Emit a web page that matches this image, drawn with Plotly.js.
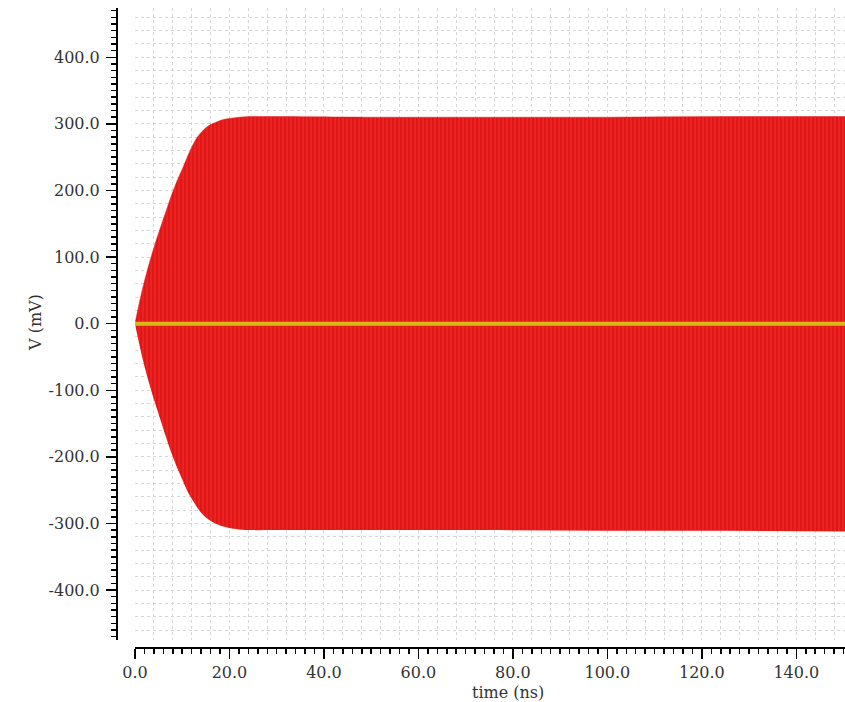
<!DOCTYPE html>
<html>
<head>
<meta charset="utf-8">
<script src="https://cdn.plot.ly/plotly-3.0.1.min.js"></script>
<style>html,body{margin:0;padding:0;background:#fff;}#chart{width:845px;height:702px;}</style>
</head>
<body>
<div id="chart"></div>
<script>
// Envelope of the oscillating output (time in ns, voltage in mV)
const envTime  = [0, 1, 2, 3, 4, 5, 6, 7, 8, 9, 10, 11, 12, 13, 14, 15, 16, 17, 18, 19, 20, 22, 25, 30, 50, 75, 100, 125, 150.3];
const envUpper = [0, 34, 64, 90, 114, 136, 157, 178, 198, 216, 232, 249, 265, 278, 287, 294, 299, 302, 305, 307, 308, 310, 311, 311, 310, 310, 310, 311, 311];
const envLower = [0, -34, -64, -90, -114, -136, -158, -180, -200, -218, -234, -250, -263, -274, -284, -291, -296, -300, -303, -305, -307, -309, -310, -310, -310, -310, -311, -311, -312];
// Second (flat) signal
const flatTime = [0, 150.3];
const flatV    = [0, 0];
// Tick labels
const xTickVals = [0, 20, 40, 60, 80, 100, 120, 140];
const xTickText = ["0.0", "20.0", "40.0", "60.0", "80.0", "100.0", "120.0", "140.0"];
const yTickVals = [-400, -300, -200, -100, 0, 100, 200, 300, 400];
const yTickText = ["-400.0", "-300.0", "-200.0", "-100.0", "0.0", "100.0", "200.0", "300.0", "400.0"];
const xTitle = "time (ns)";
const yTitle = "V (mV)";

const FONT = "DejaVu Serif";
const TXT = "#333333";
const xRange = [0, 150.3];
const yRange = [-475, 474];

const traces = [
  {x: envTime, y: envLower, mode: "lines", line: {width: 0, color: "#e8191b", shape: "spline", smoothing: 1}, hoverinfo: "skip", showlegend: false},
  {x: envTime, y: envUpper, mode: "lines", line: {width: 0.5, color: "#e8191b", shape: "spline", smoothing: 1}, fill: "tonexty",
   fillcolor: "#ec1c1c",
   fillpattern: {shape: "|", fgcolor: "#cc1414", bgcolor: "#f02020", size: 4, solidity: 0.3},
   hoverinfo: "skip", showlegend: false},
  {x: flatTime, y: flatV, mode: "lines", line: {width: 4, color: "#d8b816"}, showlegend: false},
  {x: [], y: [], xaxis: "x2", yaxis: "y", showlegend: false},
  {x: [], y: [], xaxis: "x", yaxis: "y2", showlegend: false}
];

const gridMajor = "#b4b4b4";
const gridMinor = "#d6d6d6";

const layout = {
  width: 845, height: 702,
  margin: {l: 117, r: 0, t: 8, b: 54},
  paper_bgcolor: "#ffffff", plot_bgcolor: "#ffffff",
  showlegend: false,
  font: {family: FONT, size: 16, color: TXT},
  xaxis: {
    domain: [18/728, 1], anchor: "free", position: 0,
    range: xRange, autorange: false,
    tickmode: "array", tickvals: xTickVals, ticktext: xTickText,
    ticks: "outside", ticklen: 10, tickwidth: 1.5, tickcolor: "#000",
    showline: true, linecolor: "#000", linewidth: 2,
    showgrid: true, gridcolor: gridMajor, griddash: "dot", gridwidth: 1,
    zeroline: false,
    minor: {dtick: 2, tick0: 0, ticks: "outside", ticklen: 5, tickwidth: 1.5, tickcolor: "#000", showgrid: false},
    tickfont: {family: FONT, size: 16, color: TXT}
  },
  xaxis2: {
    overlaying: "x", anchor: "free", position: 0,
    range: xRange, autorange: false,
    tickmode: "linear", tick0: 0, dtick: 4,
    showticklabels: false, ticks: "", showline: false, zeroline: false,
    showgrid: true, gridcolor: gridMinor, griddash: "dot", gridwidth: 1
  },
  yaxis: {
    domain: [8/640, 1], anchor: "free", position: 0,
    range: yRange, autorange: false,
    tickmode: "array", tickvals: yTickVals, ticktext: yTickText,
    ticks: "outside", ticklen: 10, tickwidth: 1.5, tickcolor: "#000",
    ticklabelstandoff: 3,
    showline: true, linecolor: "#000", linewidth: 2,
    showgrid: true, gridcolor: gridMajor, griddash: "dot", gridwidth: 1,
    zeroline: false,
    minor: {dtick: 10, tick0: 0, ticks: "outside", ticklen: 5, tickwidth: 1.5, tickcolor: "#000", showgrid: false},
    tickfont: {family: FONT, size: 16, color: TXT}
  },
  yaxis2: {
    overlaying: "y", anchor: "free", position: 0,
    range: yRange, autorange: false,
    tickmode: "linear", tick0: 0, dtick: 20,
    showticklabels: false, ticks: "", showline: false, zeroline: false,
    showgrid: true, gridcolor: gridMinor, griddash: "dot", gridwidth: 1
  },
  annotations: [
    {text: xTitle, xref: "paper", yref: "paper", x: (508-117)/728, y: (648-692)/640,
     xanchor: "center", yanchor: "middle", showarrow: false, font: {family: FONT, size: 16, color: TXT}},
    {text: yTitle, xref: "paper", yref: "paper", x: (35-117)/728, y: (648-323)/640,
     xanchor: "center", yanchor: "middle", textangle: -90, showarrow: false, font: {family: FONT, size: 16, color: TXT}}
  ]
};

Plotly.newPlot("chart", traces, layout, {staticPlot: true, displayModeBar: false});
</script>
</body>
</html>
